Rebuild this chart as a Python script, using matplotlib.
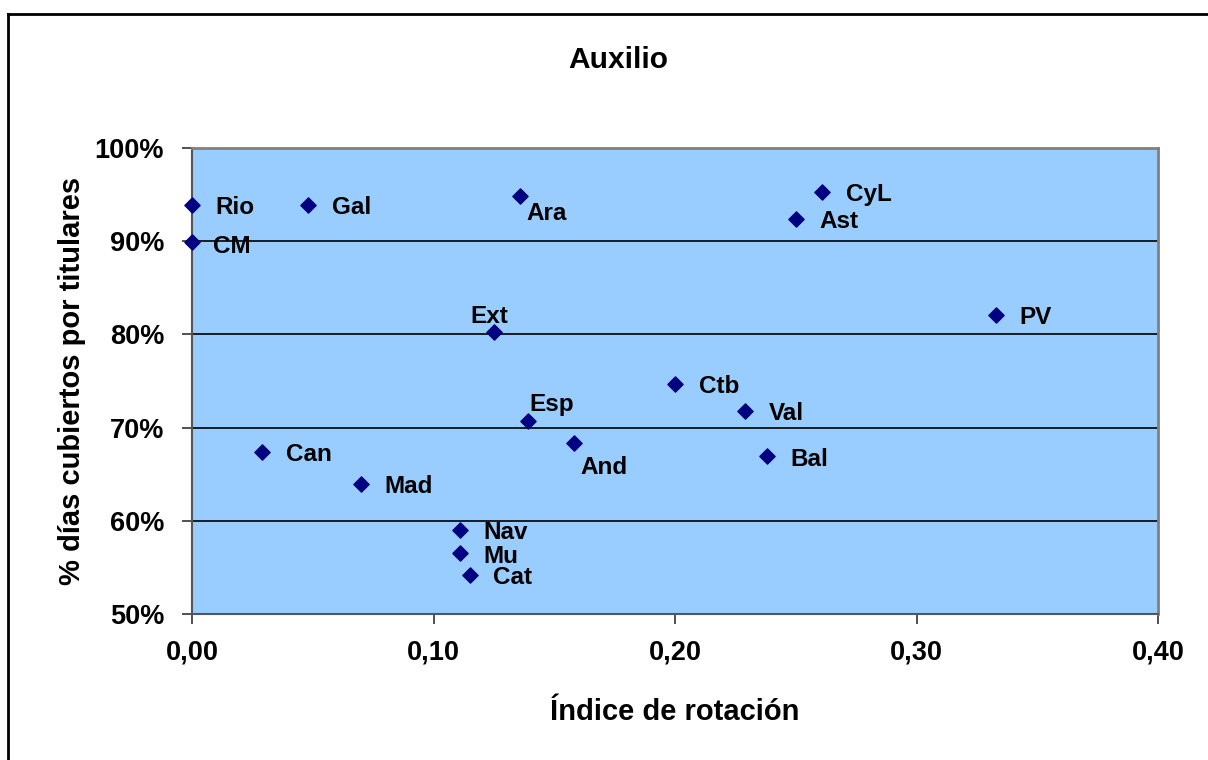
import matplotlib
matplotlib.use('Agg')
import matplotlib.pyplot as plt
from matplotlib.ticker import FuncFormatter, MultipleLocator
from matplotlib.lines import Line2D

plt.rcParams['font.family'] = ['Liberation Sans', 'DejaVu Sans']
plt.rcParams['font.weight'] = 'bold'

# datos: region, indice de rotacion, % dias cubiertos por titulares
regiones = ['Rio', 'CM', 'Gal', 'Ara', 'CyL', 'Ast', 'Ext', 'PV', 'Ctb', 'Val',
            'Esp', 'And', 'Bal', 'Can', 'Mad', 'Nav', 'Mu', 'Cat']
rotacion = [0.000, 0.000, 0.048, 0.136, 0.261, 0.250, 0.125, 0.333, 0.200, 0.229,
            0.139, 0.158, 0.238, 0.029, 0.070, 0.111, 0.111, 0.115]
cubiertos = [93.9, 89.9, 93.9, 94.9, 95.3, 92.4, 80.3, 82.1, 74.7, 71.8,
             70.7, 68.4, 66.9, 67.4, 64.0, 59.0, 56.5, 54.2]

# posicion de la etiqueta respecto al punto (en puntos)
desplaz = {'Ara': (4, -13), 'Ext': (-17, 11), 'Esp': (1, 12), 'And': (5, -18),
           'CM': (15, -3)}

fig = plt.figure(figsize=(12.08, 7.6), dpi=100)
ax = fig.add_axes([192/1208, 1 - 614/760, (1158-192)/1208, (614-148)/760])
ax.set_facecolor('#99CCFF')

ax.scatter(rotacion, cubiertos, marker='D', s=60, color='#000080', zorder=3,
           clip_on=False)
for r, x, y in zip(regiones, rotacion, cubiertos):
    dx, dy = desplaz.get(r, (17, -2))
    ax.annotate(r, (x, y), xytext=(dx, dy), textcoords='offset points',
                fontsize=17.5, fontweight='bold', va='center', ha='left', zorder=4)

ax.set_xlim(0, 0.40)
ax.set_ylim(50, 100)
ax.xaxis.set_major_locator(MultipleLocator(0.1))
ax.yaxis.set_major_locator(MultipleLocator(10))
ax.xaxis.set_major_formatter(FuncFormatter(lambda v, p: f'{v:.2f}'.replace('.', ',')))
ax.yaxis.set_major_formatter(FuncFormatter(lambda v, p: f'{v:.0f}%'))
ax.grid(axis='y', color='black', linewidth=1.2)
ax.set_axisbelow(True)
ax.tick_params(direction='out', length=7, width=1.2, color='#333333',
               labelsize=19.5)
ax.tick_params(axis='y', pad=13)
ax.tick_params(axis='x', pad=11)
for s in ['top', 'right']:
    ax.spines[s].set_color('#808080')
    ax.spines[s].set_linewidth(2)
for s in ['left', 'bottom']:
    ax.spines[s].set_color('#555555')
    ax.spines[s].set_linewidth(1.5)

ax.set_xlabel('Índice de rotación', fontsize=21, fontweight='bold', labelpad=24)
ax.set_ylabel('% días cubiertos por titulares', fontsize=21, fontweight='bold',
              labelpad=6)
fig.text(618/1208, 1 - 60/760, 'Auxilio', fontsize=21.5, fontweight='bold',
         ha='center', va='center')

# marco del grafico
fig.add_artist(Line2D([8/1208, 1], [1 - 14/760, 1 - 14/760], color='black', lw=2))
fig.add_artist(Line2D([8/1208, 8/1208], [0, 1 - 14/760], color='black', lw=2))

fig.savefig('out.png', dpi=100)
